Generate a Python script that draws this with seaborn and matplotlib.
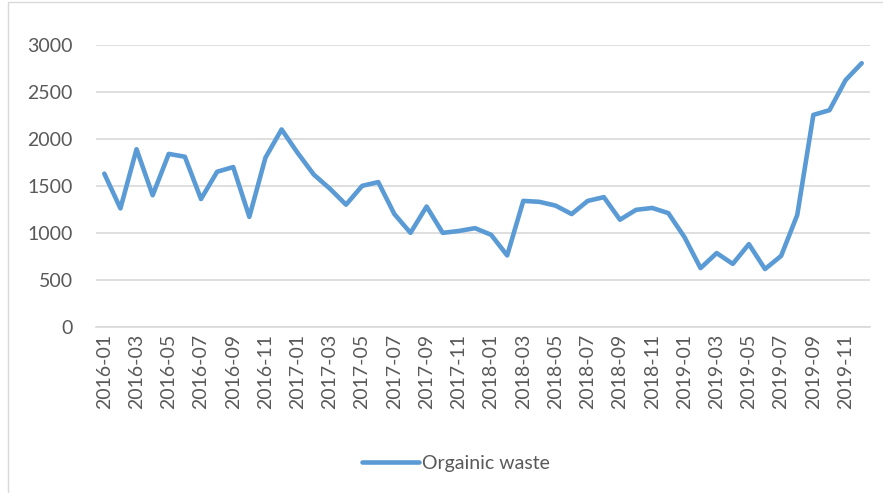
import numpy as np
import pandas as pd
import seaborn as sns
import matplotlib.pyplot as plt
from matplotlib.patches import Rectangle

# monthly values
months = pd.period_range("2016-01", "2019-12", freq="M").strftime("%Y-%m").tolist()
organic_waste = [1630, 1260, 1890, 1400, 1840, 1810, 1360, 1650, 1700, 1170, 1800, 2100,
                 1850, 1620, 1470, 1300, 1500, 1540, 1200, 1000, 1280, 1000, 1020, 1050,
                 980, 760, 1340, 1330, 1290, 1200, 1340, 1380, 1140, 1245, 1265, 1210,
                 955, 625, 785, 670, 880, 615, 755, 1190, 2255, 2305, 2625, 2805]
y_ticks = [0, 500, 1000, 1500, 2000, 2500, 3000]

df = pd.DataFrame({"pos": np.arange(len(months)), "month": months, "value": organic_waste})

sns.set_style("white")
plt.rcParams["font.family"] = ["Lato", "DejaVu Sans"]
text_col = "#595959"
grid_col = "#D9D9D9"

fig = plt.figure(figsize=(8.83, 4.93), dpi=100)
ax = fig.add_axes([0.109, 0.337, 0.876, 0.572])

sns.lineplot(data=df, x="pos", y="value", ax=ax, color="#5B9BD5", linewidth=3.3,
             label="Orgainic waste", solid_capstyle="round", solid_joinstyle="round")

ax.set_ylim(0, 3000)
ax.set_yticks(y_ticks)
ax.set_xlim(-0.5, len(months) - 0.5)
ax.grid(axis="y", color=grid_col, linewidth=1.2)
ax.set_axisbelow(True)
for s in ["left", "right", "top"]:
    ax.spines[s].set_visible(False)
ax.spines["bottom"].set_color(grid_col)
ax.spines["bottom"].set_linewidth(1.2)

# labels every other month, tick marks between categories
ax.set_xticks(df["pos"][::2])
ax.set_xticklabels(df["month"][::2], rotation=90)
ax.set_xticks(np.arange(-0.5, len(months)), minor=True)
ax.tick_params(axis="x", which="major", length=0, pad=5, labelsize=14, colors=text_col)
ax.tick_params(axis="x", which="minor", length=6, color=grid_col, width=1.2)
ax.tick_params(axis="y", length=0, pad=17, labelsize=14, colors=text_col)
ax.set_xlabel("")
ax.set_ylabel("")

leg = ax.legend(loc="center", bbox_to_anchor=(0.465, -0.485), frameon=False,
                fontsize=14, handlelength=2.9, handletextpad=0.15)
for t in leg.get_texts():
    t.set_color(text_col)

fig.patches.append(Rectangle((0.009, -0.01), 1.0, 1.005, transform=fig.transFigure,
                             fill=False, edgecolor=grid_col, linewidth=1.0))

fig.savefig("out.png", dpi=100)
